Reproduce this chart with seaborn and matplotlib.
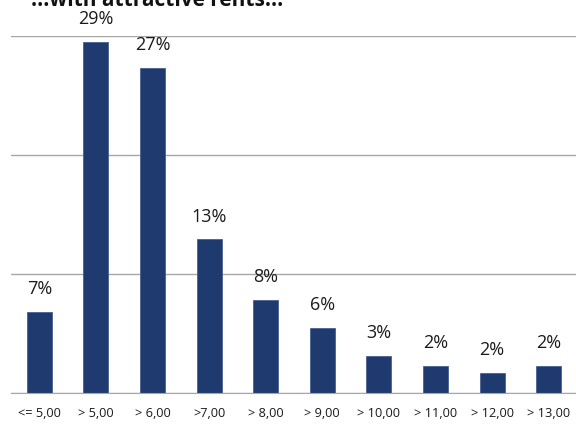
import matplotlib
matplotlib.use("Agg")
import matplotlib.pyplot as plt
import seaborn as sns
import pandas as pd
from matplotlib.ticker import FixedLocator

categories = ["<= 5,00", "> 5,00", "> 6,00", ">7,00", "> 8,00", "> 9,00",
              "> 10,00", "> 11,00", "> 12,00", "> 13,00"]
shares = [6.8, 29.5, 27.3, 12.9, 7.8, 5.5, 3.1, 2.3, 1.7, 2.3]
value_labels = ["7%", "29%", "27%", "13%", "8%", "6%", "3%", "2%", "2%", "2%"]
title = "...with attractive rents..."

df = pd.DataFrame({"cat": categories, "share": shares})

sns.set_style("white")
plt.rcParams["font.family"] = ["Open Sans", "DejaVu Sans"]

fig = plt.figure(figsize=(5.76, 4.25), dpi=100)
ax = fig.add_axes([11 / 576, 1 - 393 / 425, 566 / 576, (393 - 36) / 425])

sns.barplot(data=df, x="cat", y="share", color="#1F3A6E", width=0.44,
            saturation=1, ax=ax, edgecolor="#4a6090", linewidth=0.6)

ax.set_ylim(0, 30)
ax.set_xlim(-0.5, len(categories) - 0.5)
ax.set_yticks([0, 10, 20, 30])
ax.yaxis.grid(True, color="#a6a6a6", linewidth=1)
ax.set_axisbelow(True)
ax.set_yticklabels([])
ax.tick_params(axis="y", length=0)
for s in ["top", "right", "left"]:
    ax.spines[s].set_visible(False)
ax.spines["bottom"].set_color("#a6a6a6")
ax.set_xlabel("")
ax.set_ylabel("")

ax.set_xticks(range(len(categories)))
ax.set_xticklabels(categories, fontsize=9.2, color="#1a1a1a")
ax.tick_params(axis="x", length=0, pad=10)
ax.xaxis.set_minor_locator(FixedLocator([i - 0.5 for i in range(len(categories) + 1)]))
ax.tick_params(axis="x", which="minor", length=5, color="#a6a6a6", direction="out")

for i, (v, lab) in enumerate(zip(shares, value_labels)):
    ax.annotate(lab, (i, v), xytext=(0, 10), textcoords="offset points",
                ha="center", va="bottom", fontsize=13, color="#1a1a1a",
                annotation_clip=False)

fig.text(157 / 576, 1 - 6 / 425, title, ha="center", va="baseline",
         fontsize=15, fontweight="bold", color="#111111")

fig.savefig("out.png", dpi=100)
